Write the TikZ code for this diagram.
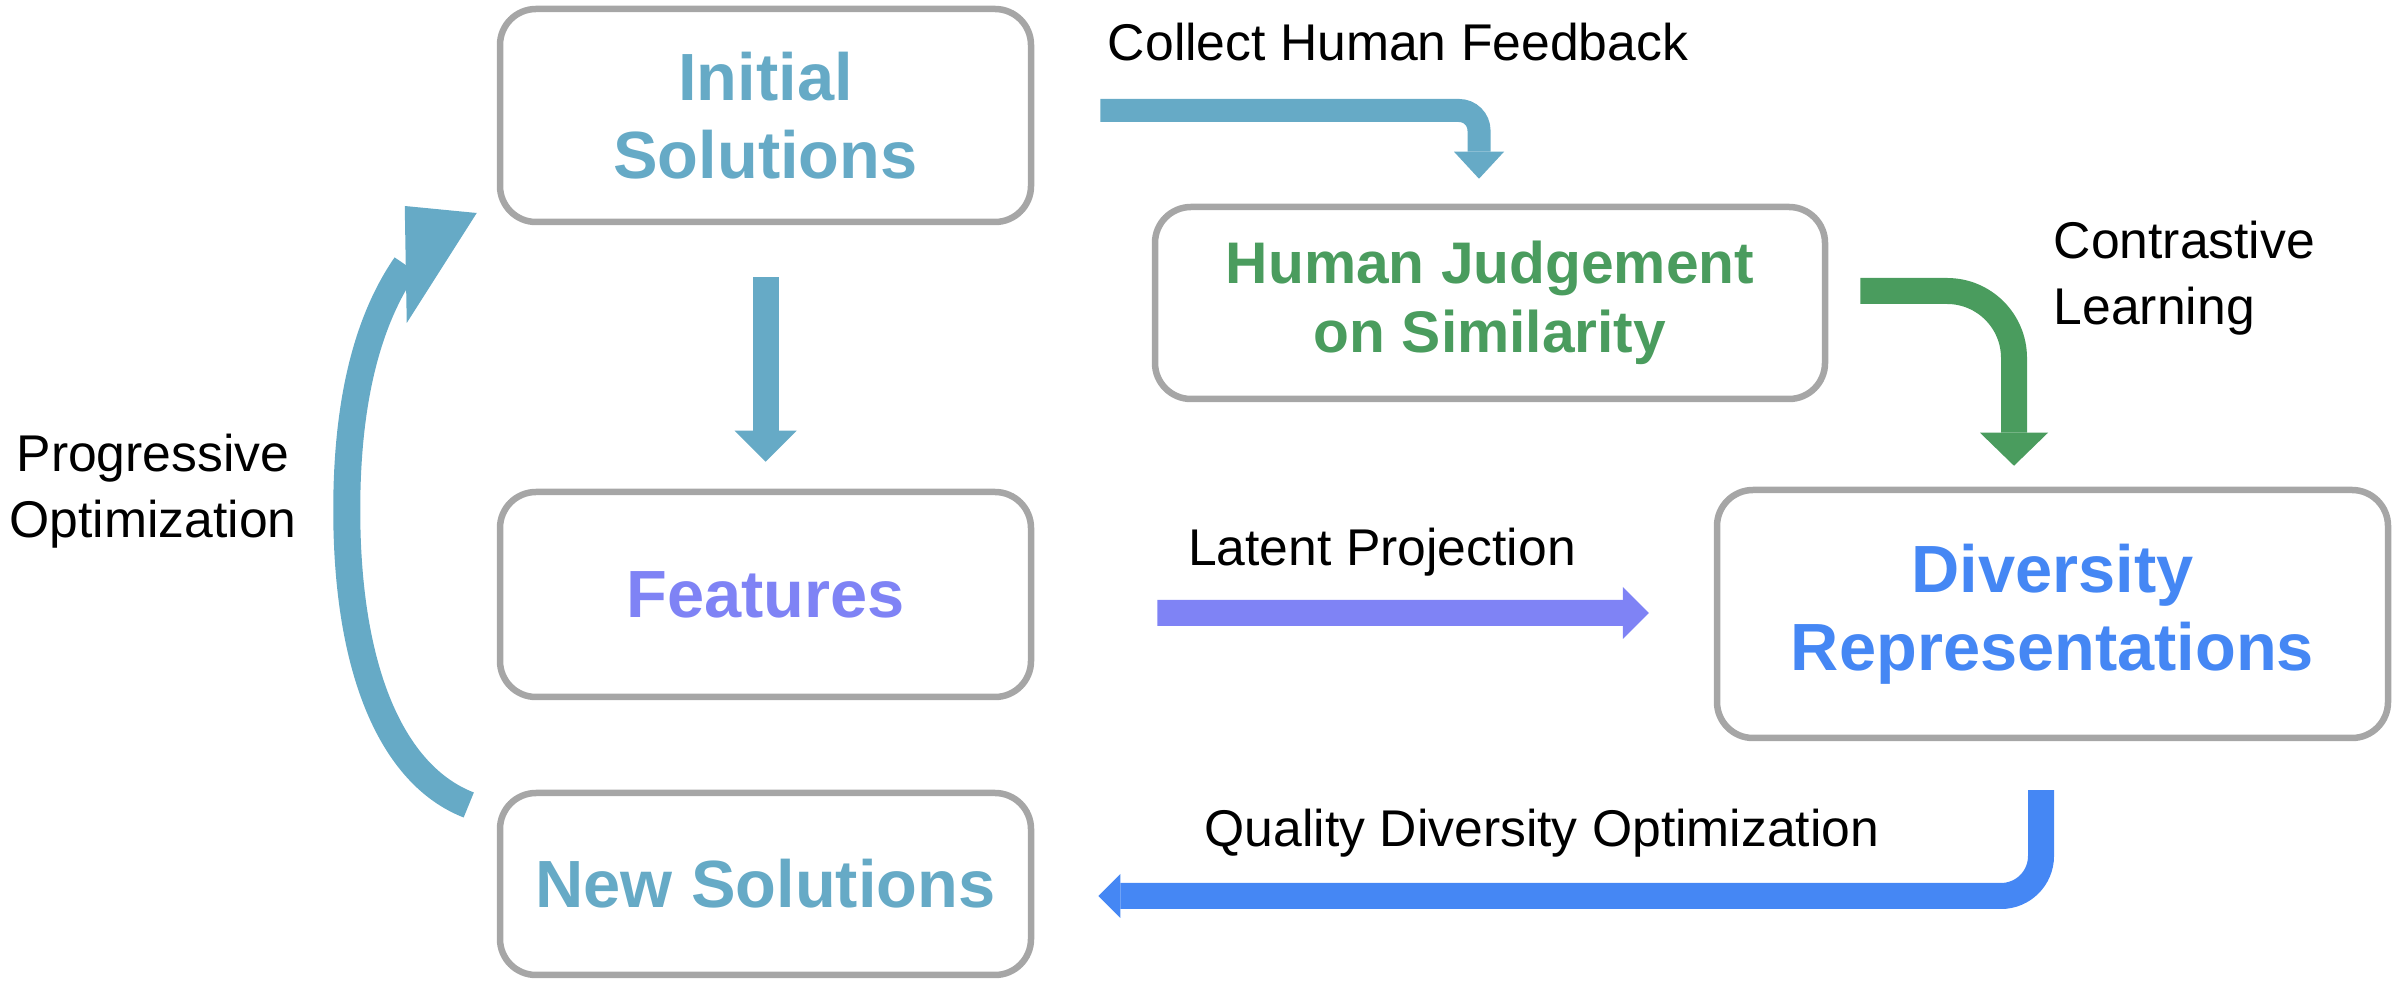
\documentclass[tikz,border=0pt]{standalone}
\usepackage{fontspec}
\setmainfont{Liberation Sans}
\usetikzlibrary{arrows.meta}
\definecolor{solteal}{HTML}{66AAC6}
\definecolor{judgegreen}{HTML}{4A9C5E}
\definecolor{featpurple}{HTML}{7F83F5}
\definecolor{divblue}{HTML}{4587F4}
\definecolor{boxgray}{HTML}{A6A6A6}

\begin{document}
\begin{tikzpicture}[
    stage/.style={rectangle, rounded corners=0.36cm, draw=boxgray, line width=0.065cm, minimum width=5.31cm, inner sep=0pt, align=center, font=\fontsize{19}{22.3}\selectfont\bfseries},
    note/.style={inner sep=0pt, font=\fontsize{14.7}{18.6}\selectfont},
    flow/.style={line width=0.26cm, -{Triangle[length=0.31cm, width=0.62cm, line width=0pt]}}
]
\useasboundingbox (0,0) rectangle (23.96,-9.94);

% Stages
\node[stage, text=solteal, minimum height=2.13cm] (init) at (7.655,-1.155) {Initial\\Solutions};
\node[stage, text=judgegreen, minimum width=6.70cm, minimum height=1.92cm, font=\fontsize{16.7}{19.6}\selectfont\bfseries] (human) at (14.90,-3.03) {Human Judgement\\on Similarity};
\node[stage, text=featpurple, minimum height=2.05cm] (feat) at (7.655,-5.945) {Features};
\node[stage, text=divblue, minimum width=6.71cm, minimum height=2.48cm] (div) at (20.525,-6.14) {Diversity\\Representations};
\node[stage, text=solteal, minimum height=1.82cm] (newsol) at (7.655,-8.84) {New Solutions};

% Labels
\node[note, anchor=base] (collect) at (13.98,-0.61) {Collect Human Feedback};
\node[note, anchor=west, align=left] (contrast) at (20.53,-2.78) {Contrastive\\Learning};
\node[note, anchor=base] (latent) at (13.82,-5.66) {Latent Projection};
\node[note, anchor=base] (quality) at (15.42,-8.47) {Quality Diversity Optimization};
\node[note, align=center] (progress) at (1.53,-4.91) {Progressive\\Optimization};

% Arrows
\draw[flow, solteal, line width=0.23cm, rounded corners=0.2cm, -{Triangle[length=0.27cm, width=0.50cm, line width=0pt]}] ([xshift=6.6mm,yshift=0.5mm]init.east) -| ([xshift=-1.1mm,yshift=2.5mm]human.north);
\draw[flow, solteal] ([yshift=-5.2mm]init.south) -- ([yshift=2.7mm]feat.north);
\draw[flow, judgegreen, rounded corners=0.67cm, -{Triangle[length=0.33cm, width=0.68cm, line width=0pt]}] ([xshift=3.2mm,yshift=1.2mm]human.east) -| ([xshift=-3.85mm,yshift=2.1mm]div.north);
\draw[flow, featpurple, -{Triangle[length=0.26cm, width=0.52cm, line width=0pt]}] ([xshift=12.3mm,yshift=-1.85mm]feat.east) -- ([xshift=-6.5mm,yshift=0.1mm]div.west);
\draw[flow, divblue, rounded corners=0.4cm, -{Triangle[length=0.22cm, width=0.44cm, line width=0pt]}] ([xshift=-1.15mm,yshift=-4.9mm]div.south) |- ([xshift=6.4mm,yshift=-1.2mm]newsol.east);

% Progressive loop
\coordinate (ptail) at ([xshift=-2.8mm,yshift=7.9mm]newsol.west);
\coordinate (pmid) at ([xshift=-15mm,yshift=8.45mm]feat.west);
\coordinate (ptip) at ([xshift=-2mm,yshift=-9.75mm]init.west);
\coordinate (pbase) at ([xshift=-7.1mm,yshift=-5.2mm]ptip);
\draw[solteal, line width=0.27cm] (ptail) .. controls +(-0.77,0.30) and +(0,-1.6) .. (pmid) .. controls +(0,1.1) and +(-0.38,-0.55) .. (pbase);
\fill[solteal] (ptip) -- ++(-0.72,0.07) -- ++(0.02,-1.17) -- cycle;

\end{tikzpicture}
\end{document}
